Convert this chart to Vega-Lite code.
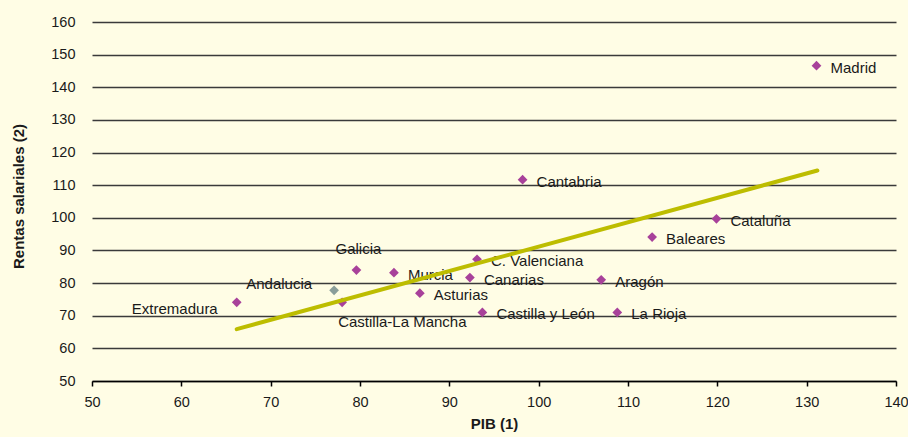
{
  "$schema": "https://vega.github.io/schema/vega-lite/v6.json",
  "width": 804,
  "height": 359,
  "autosize": {"type": "none"},
  "padding": {"left": 92, "top": 22, "right": 12, "bottom": 56},
  "background": "#FFFDE5",
  "config": {
    "view": {"stroke": null},
    "font": "Liberation Sans",
    "axis": {"labelFont": "Liberation Sans", "titleFont": "Liberation Sans", "labelColor": "#1a1a1a", "titleColor": "#1a1a1a"}
  },
  "datasets": {
    "regions": [
      {"region": "Madrid", "pib": 131.1, "rentas": 146.6, "tipo": "normal", "pos": "right"},
      {"region": "Cantabria", "pib": 98.2, "rentas": 111.7, "tipo": "normal", "pos": "right"},
      {"region": "Cataluña", "pib": 119.9, "rentas": 99.7, "tipo": "normal", "pos": "right"},
      {"region": "Baleares", "pib": 112.7, "rentas": 94.1, "tipo": "normal", "pos": "right"},
      {"region": "C. Valenciana", "pib": 93.1, "rentas": 87.3, "tipo": "normal", "pos": "right"},
      {"region": "Canarias", "pib": 92.3, "rentas": 81.7, "tipo": "normal", "pos": "right"},
      {"region": "Aragón", "pib": 107.0, "rentas": 81.0, "tipo": "normal", "pos": "right"},
      {"region": "Castilla y León", "pib": 93.7, "rentas": 71.0, "tipo": "normal", "pos": "right"},
      {"region": "La Rioja", "pib": 108.8, "rentas": 71.0, "tipo": "normal", "pos": "right"},
      {"region": "Murcia", "pib": 83.8, "rentas": 83.2, "tipo": "normal", "pos": "right"},
      {"region": "Asturias", "pib": 86.7, "rentas": 76.9, "tipo": "normal", "pos": "right"},
      {"region": "Galicia", "pib": 79.6, "rentas": 84.0, "tipo": "normal", "pos": "above"},
      {"region": "Andalucia", "pib": 77.1, "rentas": 77.8, "tipo": "destacado", "pos": "aboveleft"},
      {"region": "Castilla-La Mancha", "pib": 78.0, "rentas": 74.1, "tipo": "normal", "pos": "below"},
      {"region": "Extremadura", "pib": 66.2, "rentas": 74.1, "tipo": "normal", "pos": "left"}
    ],
    "trend": [
      {"pib": 66.2, "rentas": 65.9},
      {"pib": 131.2, "rentas": 114.5}
    ]
  },
  "encoding": {
    "x": {
      "field": "pib", "type": "quantitative",
      "scale": {"domain": [50, 140], "nice": false, "zero": false},
      "axis": {
        "title": "PIB (1)", "titleFontSize": 15, "titleFontWeight": "bold", "titlePadding": 8,
        "values": [50, 60, 70, 80, 90, 100, 110, 120, 130, 140],
        "grid": false, "domainColor": "#000000", "domainWidth": 1.5,
        "ticks": true, "tickColor": "#000000", "tickSize": 5, "tickWidth": 1.5,
        "labelFontSize": 14.5, "labelPadding": 9, "labelFlush": false, "labelOverlap": false
      }
    },
    "y": {
      "field": "rentas", "type": "quantitative",
      "scale": {"domain": [50, 160], "nice": false, "zero": false},
      "axis": {
        "title": "Rentas salariales (2)", "titleFontSize": 15, "titleFontWeight": "bold", "titlePadding": 24, "titleY": 174,
        "values": [50, 60, 70, 80, 90, 100, 110, 120, 130, 140, 150, 160],
        "tickCount": 12,
        "grid": true, "gridColor": "#3a3a3a", "gridWidth": 1.3,
        "domain": false, "ticks": false, "tickSize": 0,
        "labelFontSize": 14.5, "labelPadding": 17, "labelOverlap": false
      }
    }
  },
  "layer": [
    {
      "data": {"name": "regions"},
      "mark": {"type": "point", "shape": "diamond", "filled": true, "size": 95, "opacity": 1},
      "encoding": {
        "color": {
          "field": "tipo", "type": "nominal",
          "scale": {"domain": ["normal", "destacado"], "range": ["#A8419A", "#8A9E9A"]},
          "legend": null
        }
      }
    },
    {
      "data": {"name": "regions"},
      "transform": [{"filter": "datum.pos === 'right'"}],
      "mark": {"type": "text", "align": "left", "baseline": "middle", "dx": 14, "dy": 2, "fontSize": 15, "color": "#1a1a1a"},
      "encoding": {"text": {"field": "region"}}
    },
    {
      "data": {"name": "regions"},
      "transform": [{"filter": "datum.pos === 'above'"}],
      "mark": {"type": "text", "align": "center", "baseline": "middle", "dx": 2, "dy": -21, "fontSize": 15, "color": "#1a1a1a"},
      "encoding": {"text": {"field": "region"}}
    },
    {
      "data": {"name": "regions"},
      "transform": [{"filter": "datum.pos === 'aboveleft'"}],
      "mark": {"type": "text", "align": "right", "baseline": "middle", "dx": -22, "dy": -6, "fontSize": 15, "color": "#1a1a1a"},
      "encoding": {"text": {"field": "region"}}
    },
    {
      "data": {"name": "regions"},
      "transform": [{"filter": "datum.pos === 'left'"}],
      "mark": {"type": "text", "align": "right", "baseline": "middle", "dx": -19, "dy": 7, "fontSize": 15, "color": "#1a1a1a"},
      "encoding": {"text": {"field": "region"}}
    },
    {
      "data": {"name": "regions"},
      "transform": [{"filter": "datum.pos === 'below'"}],
      "mark": {"type": "text", "align": "left", "baseline": "middle", "dx": -4, "dy": 20, "fontSize": 15, "color": "#1a1a1a"},
      "encoding": {"text": {"field": "region"}}
    },
    {
      "data": {"name": "trend"},
      "mark": {"type": "line", "color": "#BDBD00", "strokeWidth": 4, "strokeCap": "round"},
      "encoding": {}
    }
  ]
}
